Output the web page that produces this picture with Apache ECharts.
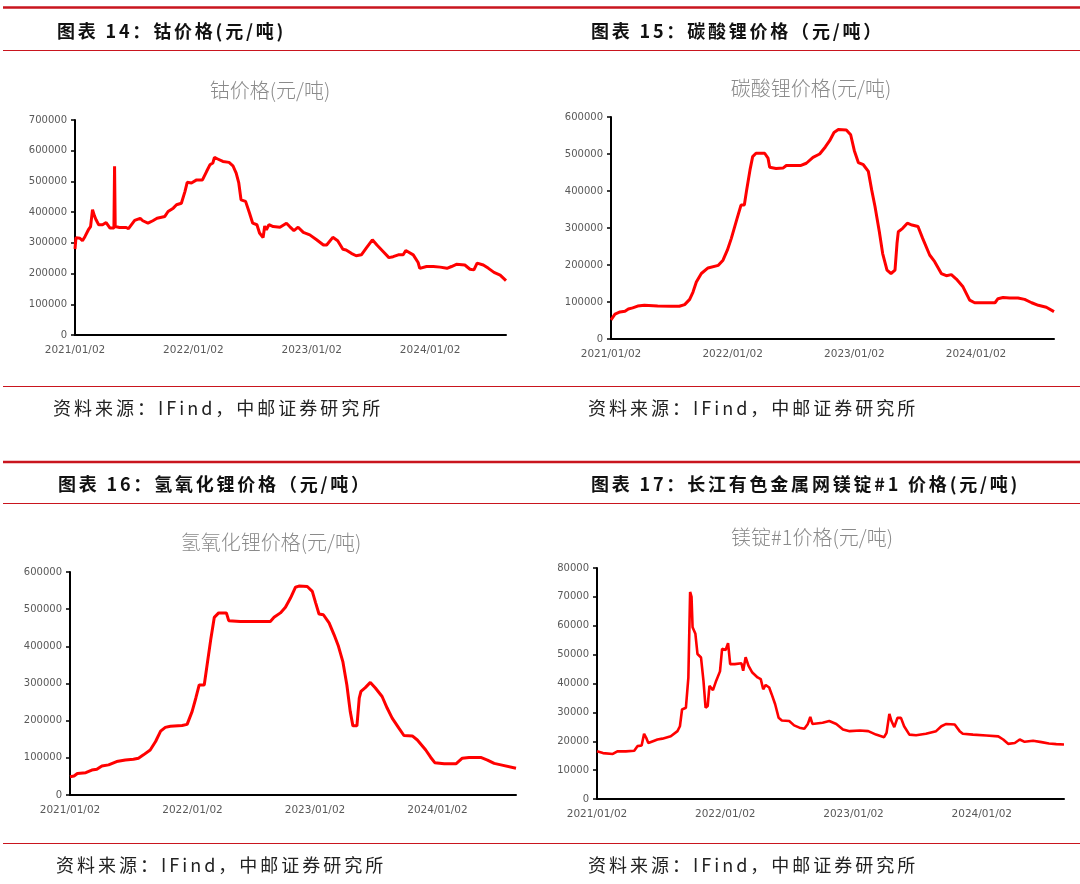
<!DOCTYPE html>
<html>
<head>
<meta charset="utf-8">
<script src="https://cdn.jsdelivr.net/npm/echarts@6/dist/echarts.min.js"></script>
<style>
  html, body { margin: 0; padding: 0; background: #fff; }
  #page { position: relative; width: 1080px; height: 884px; overflow: hidden; }
  #chart { position: absolute; left: 0; top: 0; width: 1080px; height: 884px; }
  .head, .src {
    position: absolute; white-space: nowrap; color: #111;
    font-family: "Noto Sans CJK SC", "Noto Sans", sans-serif;
    height: 24px; line-height: 24px;
  }
  .head { font-size: 18px; font-weight: bold; letter-spacing: 2.8px; }
  .src { font-size: 18px; font-weight: normal; letter-spacing: 3px; color: #222; }
</style>
</head>
<body>
<div id="page">
  <div id="chart"></div>
  <div class="head" style="left:57px;top:18px">图表 14：钴价格(元/吨)</div>
  <div class="head" style="left:591px;top:18px">图表 15：碳酸锂价格（元/吨）</div>
  <div class="head" style="left:58px;top:471px">图表 16：氢氧化锂价格（元/吨）</div>
  <div class="head" style="left:591px;top:471px">图表 17：长江有色金属网镁锭#1 价格(元/吨)</div>
  <div class="src" style="left:53px;top:395px">资料来源：IFind，中邮证券研究所</div>
  <div class="src" style="left:588px;top:395px">资料来源：IFind，中邮证券研究所</div>
  <div class="src" style="left:56px;top:852px">资料来源：IFind，中邮证券研究所</div>
  <div class="src" style="left:588px;top:852px">资料来源：IFind，中邮证券研究所</div>
</div>
<script>
// axis range shared by all four panels
const startDate = '2021-01-02'
const endDate = '2024-08-23'

const chartTitles = ['钴价格(元/吨)', '碳酸锂价格(元/吨)', '氢氧化锂价格(元/吨)', '镁锭#1价格(元/吨)']
const yMax = [700000, 600000, 600000, 80000]
const yStep = [100000, 100000, 100000, 10000]

// 钴价格
const cobaltDates = ['2021-01-02','2021-01-05','2021-01-17','2021-01-25','2021-02-02','2021-02-12','2021-02-19','2021-02-25','2021-03-03','2021-03-08','2021-03-16','2021-03-28','2021-04-08','2021-04-20','2021-05-02','2021-05-04','2021-05-06','2021-05-19','2021-06-09','2021-06-16','2021-07-05','2021-07-22','2021-07-30','2021-08-15','2021-08-30','2021-09-12','2021-10-06','2021-10-16','2021-11-01','2021-11-11','2021-11-26','2021-12-07','2021-12-14','2021-12-27','2022-01-12','2022-01-30','2022-02-12','2022-02-22','2022-03-03','2022-03-08','2022-03-18','2022-04-03','2022-04-22','2022-05-04','2022-05-14','2022-05-22','2022-05-29','2022-06-12','2022-06-24','2022-07-04','2022-07-17','2022-07-25','2022-08-05','2022-08-10','2022-08-15','2022-08-23','2022-09-05','2022-09-26','2022-10-16','2022-10-26','2022-11-08','2022-11-21','2022-12-07','2022-12-27','2023-01-17','2023-02-07','2023-02-17','2023-03-08','2023-03-23','2023-04-08','2023-04-18','2023-05-04','2023-05-19','2023-06-04','2023-06-19','2023-07-08','2023-07-22','2023-08-10','2023-08-28','2023-09-10','2023-09-26','2023-10-11','2023-10-19','2023-11-11','2023-11-26','2023-12-01','2023-12-22','2024-01-12','2024-02-02','2024-02-23','2024-03-08','2024-03-23','2024-04-18','2024-05-04','2024-05-16','2024-05-26','2024-06-14','2024-06-30','2024-07-17','2024-08-05','2024-08-23']
const cobaltPrices = [280000,317000,315000,307000,321000,342000,353000,408000,388000,375000,359000,359000,366000,348000,348000,549000,353000,350000,350000,346000,373000,380000,372000,364000,372000,380000,386000,402000,413000,424000,429000,467000,497000,495000,505000,505000,533000,554000,560000,578000,573000,565000,562000,551000,527000,495000,440000,435000,397000,364000,359000,332000,317000,355000,342000,359000,353000,351000,364000,353000,340000,351000,334000,326000,310000,293000,293000,318000,307000,279000,277000,266000,258000,261000,283000,310000,293000,272000,252000,255000,261000,261000,275000,261000,236000,217000,223000,223000,221000,217000,223000,230000,228000,214000,212000,234000,228000,217000,204000,195000,177000]

// 碳酸锂价格
const carbonateDates = ['2021-01-02','2021-01-14','2021-01-29','2021-02-13','2021-02-23','2021-03-08','2021-03-23','2021-04-12','2021-05-22','2021-07-01','2021-07-26','2021-08-11','2021-08-26','2021-09-05','2021-09-15','2021-09-30','2021-10-20','2021-11-20','2021-12-04','2021-12-17','2021-12-29','2022-01-14','2022-01-27','2022-02-06','2022-02-13','2022-02-23','2022-03-03','2022-03-13','2022-04-08','2022-04-18','2022-04-23','2022-05-12','2022-06-02','2022-06-12','2022-07-26','2022-08-11','2022-08-31','2022-09-20','2022-10-07','2022-10-20','2022-11-02','2022-11-15','2022-12-09','2022-12-22','2023-01-02','2023-01-14','2023-01-29','2023-02-13','2023-02-23','2023-03-05','2023-03-18','2023-03-28','2023-04-10','2023-04-22','2023-05-04','2023-05-10','2023-05-14','2023-05-27','2023-06-10','2023-06-24','2023-07-12','2023-07-26','2023-08-16','2023-08-31','2023-09-20','2023-10-05','2023-10-20','2023-11-04','2023-11-24','2023-12-14','2023-12-29','2024-01-28','2024-02-28','2024-03-08','2024-03-23','2024-04-12','2024-05-07','2024-05-27','2024-06-17','2024-07-07','2024-07-31','2024-08-23']
const carbonatePrices = [52000,67000,73000,75000,81000,84000,89000,91000,89000,88500,88500,93000,107000,127000,154000,177000,192000,199000,213000,240000,272000,322000,362000,362000,403000,457000,493000,502000,502000,489000,464000,461000,462000,469000,469000,475000,491000,500000,519000,536000,558000,566000,565000,552000,509000,477000,471000,453000,403000,358000,290000,231000,186000,177000,186000,258000,290000,299000,313000,308000,304000,272000,227000,209000,177000,171000,174000,162000,141000,105000,98000,98000,98000,109000,112000,111000,111000,107000,98000,91000,86000,74000]

// 氢氧化锂价格
const hydroxideDates = ['2021-01-02','2021-01-14','2021-01-24','2021-02-18','2021-03-08','2021-03-23','2021-04-07','2021-04-27','2021-05-21','2021-06-16','2021-07-10','2021-07-25','2021-08-09','2021-08-29','2021-09-14','2021-09-29','2021-10-13','2021-10-28','2021-12-02','2021-12-17','2022-01-01','2022-01-12','2022-01-22','2022-02-06','2022-02-16','2022-02-26','2022-03-08','2022-03-21','2022-04-13','2022-04-20','2022-05-24','2022-08-22','2022-09-02','2022-09-21','2022-10-06','2022-10-21','2022-11-05','2022-11-15','2022-12-10','2022-12-25','2023-01-04','2023-01-14','2023-01-27','2023-02-13','2023-02-28','2023-03-13','2023-03-26','2023-04-07','2023-04-17','2023-04-25','2023-05-07','2023-05-14','2023-05-19','2023-06-01','2023-06-16','2023-07-01','2023-07-21','2023-08-05','2023-08-20','2023-09-09','2023-09-24','2023-10-19','2023-11-03','2023-11-28','2023-12-13','2023-12-25','2024-01-22','2024-02-26','2024-03-16','2024-04-05','2024-05-10','2024-05-30','2024-06-19','2024-07-09','2024-08-23']
const hydroxidePrices = [49000,51000,58000,60000,67000,69000,78000,81000,90000,94000,96000,99000,108000,121000,144000,172000,182000,185000,187000,190000,225000,261000,296000,296000,359000,422000,478000,490000,490000,469000,467000,467000,478000,490000,505000,530000,559000,562000,561000,548000,517000,487000,485000,463000,431000,400000,359000,296000,225000,186000,186000,261000,279000,289000,303000,288000,265000,234000,207000,180000,160000,159000,148000,121000,101000,87000,84000,84000,99000,101000,101000,94000,85000,81000,72000]

// 镁锭#1价格
const magnesiumDates = ['2021-01-02','2021-01-19','2021-02-16','2021-03-01','2021-03-25','2021-04-18','2021-04-27','2021-05-09','2021-05-16','2021-05-22','2021-05-28','2021-06-14','2021-06-23','2021-07-07','2021-07-31','2021-08-19','2021-08-26','2021-09-01','2021-09-12','2021-09-19','2021-09-24','2021-09-28','2021-10-01','2021-10-09','2021-10-15','2021-10-25','2021-11-01','2021-11-07','2021-11-13','2021-11-18','2021-11-28','2021-12-07','2021-12-18','2021-12-24','2022-01-03','2022-01-10','2022-01-16','2022-01-29','2022-02-17','2022-02-22','2022-03-01','2022-03-09','2022-03-20','2022-04-04','2022-04-13','2022-04-20','2022-04-27','2022-05-07','2022-05-14','2022-05-24','2022-06-03','2022-06-12','2022-07-03','2022-07-17','2022-08-01','2022-08-15','2022-08-25','2022-09-01','2022-09-07','2022-10-06','2022-10-25','2022-11-14','2022-12-03','2022-12-22','2023-01-20','2023-02-13','2023-03-07','2023-03-30','2023-04-06','2023-04-14','2023-04-20','2023-04-28','2023-05-07','2023-05-17','2023-05-26','2023-06-10','2023-06-29','2023-07-27','2023-08-25','2023-09-09','2023-09-23','2023-10-17','2023-10-31','2023-11-09','2023-12-08','2024-01-15','2024-02-18','2024-03-03','2024-03-17','2024-04-05','2024-04-19','2024-05-03','2024-05-27','2024-06-20','2024-07-11','2024-08-01','2024-08-23']
const magnesiumPrices = [16500,15900,15600,16500,16500,16700,18300,18500,22600,21200,19400,20200,20600,20900,21700,23500,25200,31000,31600,42000,71700,70000,59500,57200,50200,49000,40900,31600,32200,39200,37700,40900,44200,52000,51600,54000,46700,46700,47000,44400,49100,46200,43800,42100,41500,38000,39500,38600,36300,32800,28100,27200,27000,25500,24700,24300,26000,28400,26000,26400,27000,26000,24100,23500,23700,23500,22300,21400,22900,29500,27000,24900,28100,28100,25200,22300,22100,22600,23500,25200,26000,25800,23500,22600,22300,22000,21700,20600,19100,19400,20600,19800,20200,19700,19200,19000,18900]

const seriesDates = [cobaltDates, carbonateDates, hydroxideDates, magnesiumDates]
const seriesPrices = [cobaltPrices, carbonatePrices, hydroxidePrices, magnesiumPrices]

const grids = [
  { left: 75, top: 120, width: 431, height: 215 },
  { left: 611, top: 117, width: 443, height: 222 },
  { left: 70, top: 572, width: 446, height: 223 },
  { left: 597, top: 568, width: 467, height: 231 },
]
const titlePos = [[270, 90], [811, 88], [271, 542], [812, 537]]

const DAY = 24 * 3600 * 1000
const t0 = Date.parse(startDate)
const t1 = Date.parse(endDate)

const pad = n => (n < 10 ? '0' + n : '' + n)
function dateLabel(v) {
  const d = new Date(v)
  return d.getUTCFullYear() + '/' + pad(d.getUTCMonth() + 1) + '/' + pad(d.getUTCDate())
}

const axisFont = 'DejaVu Sans, Verdana, sans-serif'
const red = '#c9151e'

const chart = echarts.init(document.getElementById('chart'), null, { renderer: 'canvas' })

const graphic = []
// report frame lines
;[[7.5, 2.5], [50.5, 1.2], [386.5, 1.2], [462, 2.5], [503.5, 1.2], [843.5, 1.2]].forEach(([y, w]) => {
  graphic.push({
    type: 'line', silent: true,
    shape: { x1: 3, y1: y, x2: 1080, y2: y },
    style: { stroke: red, lineWidth: w },
  })
})
chartTitles.forEach((t, i) => {
  graphic.push({
    type: 'text', silent: true,
    x: titlePos[i][0], y: titlePos[i][1],
    style: {
      text: t, fill: '#8a8a8a', fontSize: 20,
      fontFamily: '"Noto Sans CJK SC", sans-serif', fontWeight: 300,
      align: 'center', verticalAlign: 'middle',
    },
  })
})

const option = {
  animation: false,
  backgroundColor: '#fff',
  graphic,
  grid: grids.map(g => Object.assign({ containLabel: false }, g)),
  xAxis: grids.map((g, i) => ({
    type: 'value', gridIndex: i,
    min: t0, max: t1, interval: 365 * DAY,
    axisLine: { onZero: false, lineStyle: { color: '#000', width: 2 } },
    axisTick: { show: false },
    splitLine: { show: false },
    axisLabel: {
      formatter: dateLabel, color: '#595959', fontSize: 10.5,
      fontFamily: axisFont, margin: 10, showMaxLabel: false,
    },
  })),
  yAxis: grids.map((g, i) => ({
    type: 'value', gridIndex: i,
    min: 0, max: yMax[i], interval: yStep[i],
    axisLine: { show: true, onZero: false, lineStyle: { color: '#000', width: 2 } },
    axisTick: { show: true, length: 4, lineStyle: { color: '#000', width: 1.5 } },
    splitLine: { show: false },
    axisLabel: {
      formatter: v => String(v), color: '#595959', fontSize: 10,
      fontFamily: axisFont, margin: 8,
    },
  })),
  series: seriesDates.map((dates, i) => ({
    type: 'line', xAxisIndex: i, yAxisIndex: i,
    showSymbol: false, silent: true,
    lineStyle: { color: '#ff0000', width: i === 3 ? 2.6 : 3 },
    data: dates.map((d, k) => [Date.parse(d), seriesPrices[i][k]]),
  })),
}

chart.setOption(option)
</script>
</body>
</html>
